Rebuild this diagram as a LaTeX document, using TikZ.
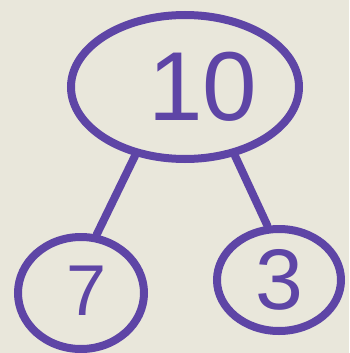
\documentclass[tikz,border=0pt]{standalone}
\usepackage{xcolor}
\usepackage{fontspec}
\setmainfont{Liberation Sans}
\usepackage{tikz}
\usetikzlibrary{shapes.geometric}
\definecolor{marker}{HTML}{5E45A6}
\definecolor{paper}{HTML}{E9E7DB}

\tikzset{
    bond/.style={ellipse, draw=marker, line width=8pt, inner sep=0pt, text=marker},
    link/.style={draw=marker, line width=8pt, line cap=round}
}

\begin{document}
\begin{tikzpicture}[x=1pt,y=-1pt]
        % Paper
        \fill[paper] (0,0) rectangle (349,353);
        \useasboundingbox (0,0) rectangle (349,353);
    
        % Whole and parts
        \node[bond, minimum width=228pt, minimum height=144pt, font=\fontsize{98}{98}\selectfont] (ten) at (185,87) {\hspace*{36pt}10};
        \node[bond, minimum width=126pt, minimum height=112pt, font=\fontsize{72}{72}\selectfont] (seven) at (81,293) {\hspace*{12pt}\raisebox{5pt}{7}};
        \node[bond, minimum width=124pt, minimum height=102pt, font=\fontsize{86}{86}\selectfont] (three) at (279,280) {3};
    
        % Links
        \draw[link] (ten.234) -- (seven.75);
        \draw[link] (ten.306) -- (three.102);
    \end{tikzpicture}
\end{document}
